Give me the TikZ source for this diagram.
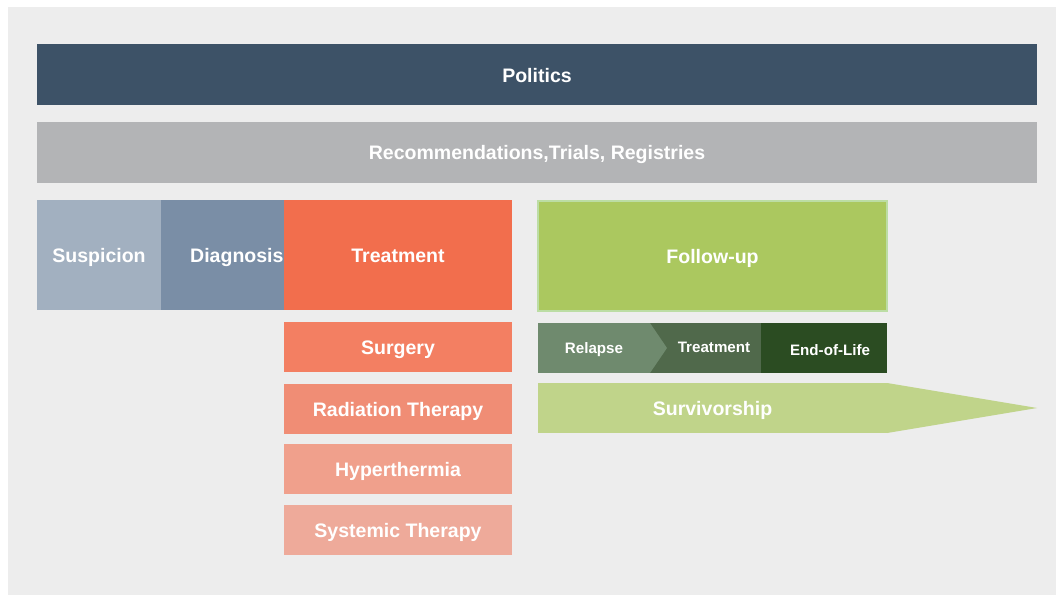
\documentclass[tikz,border=0pt]{standalone}
\usepackage{fontspec}
\setmainfont{Liberation Sans}
\usepackage{tikz}
\usetikzlibrary{calc}

\definecolor{bggray}{HTML}{EDEDED}
\definecolor{politc}{HTML}{3D5267}
\definecolor{recomc}{HTML}{B3B4B6}
\definecolor{suspc}{HTML}{A2B0C0}
\definecolor{diagc}{HTML}{7A8EA6}
\definecolor{treatc}{HTML}{F26E4D}
\definecolor{follc}{HTML}{ABC85F}
\definecolor{follbd}{HTML}{BCDDA4}
\definecolor{surgc}{HTML}{F37F62}
\definecolor{radc}{HTML}{F08D75}
\definecolor{hypc}{HTML}{F0A08C}
\definecolor{sysc}{HTML}{EEAA9A}
\definecolor{relc}{HTML}{6F8A6E}
\definecolor{trsmc}{HTML}{50694B}
\definecolor{eolc}{HTML}{2B4C22}
\definecolor{survc}{HTML}{C0D48A}

\tikzset{
  blk/.style={inner sep=0pt, outer sep=0pt, anchor=north west, text=white,
    text height=16.5bp, text depth=1bp,
    font=\bfseries\fontsize{19.6pt}{23pt}\selectfont},
  sblk/.style={blk, text height=11.5bp, text depth=1bp,
    font=\bfseries\fontsize{15.2pt}{18pt}\selectfont},
}

\begin{document}
\begin{tikzpicture}[x=1bp,y=-1bp]

\useasboundingbox (0,0) rectangle (1056,595);
\fill[bggray] (8,7) rectangle (1056,595);

% top bars
\node[blk, fill=politc, minimum width=1000bp, minimum height=61bp] (pol) at (37,44) {Politics};
\node[blk, fill=recomc, minimum width=1000bp, minimum height=61bp, text height=15bp] (rec) at (37,122) {Recommendations,Trials, Registries};

% pathway
\node[blk, fill=suspc, minimum width=124bp, minimum height=110bp] (susp) at (37,200) {Suspicion};
\node[blk, fill=diagc, minimum width=123bp, minimum height=110bp, text width=122bp, align=right] (diag) at (161,200) {Diagnosis};
\node[blk, fill=treatc, minimum width=228bp, minimum height=110bp] (treat) at (284,200) {Treatment};
\node[blk, fill=follc, draw=follbd, line width=1.5bp, minimum width=349bp, minimum height=110bp] (foll) at (538,201) {Follow-up};

% treatment options
\node[blk, fill=surgc, minimum width=228bp, minimum height=50bp] (surg) at (284,322) {Surgery};
\node[blk, fill=radc, minimum width=228bp, minimum height=50bp] (rad) at (284,384) {Radiation Therapy};
\node[blk, fill=hypc, minimum width=228bp, minimum height=50bp] (hyp) at (284,444) {Hyperthermia};
\node[blk, fill=sysc, minimum width=228bp, minimum height=50bp] (sys) at (284,505) {Systemic Therapy};

% follow-up stages
\node[sblk, fill=trsmc, minimum width=94bp, minimum height=50bp, text height=10.5bp] (trsm) at (667,323) {Treatment};
\fill[trsmc] ($(trsm.north west)+(-17,0)$) rectangle (trsm.south west);
\node[sblk, fill=relc, minimum width=112bp, minimum height=50bp] (rel) at (538,323) {Relapse};
\fill[relc] (rel.north east) -- ($(rel.east)+(17,0)$) -- (rel.south east) -- cycle;
\node[sblk, fill=eolc, minimum width=126bp, minimum height=50bp, text width=92bp, align=right, text height=14bp, text depth=0bp] (eol) at (761,323) {End-of-Life};

% survivorship arrow
\node[blk, fill=survc, minimum width=349bp, minimum height=50bp, text height=15bp] (surv) at (538,383) {Survivorship};
\fill[survc] (surv.north east) -- (surv.east -| pol.east) -- (surv.south east) -- cycle;

\end{tikzpicture}
\end{document}
